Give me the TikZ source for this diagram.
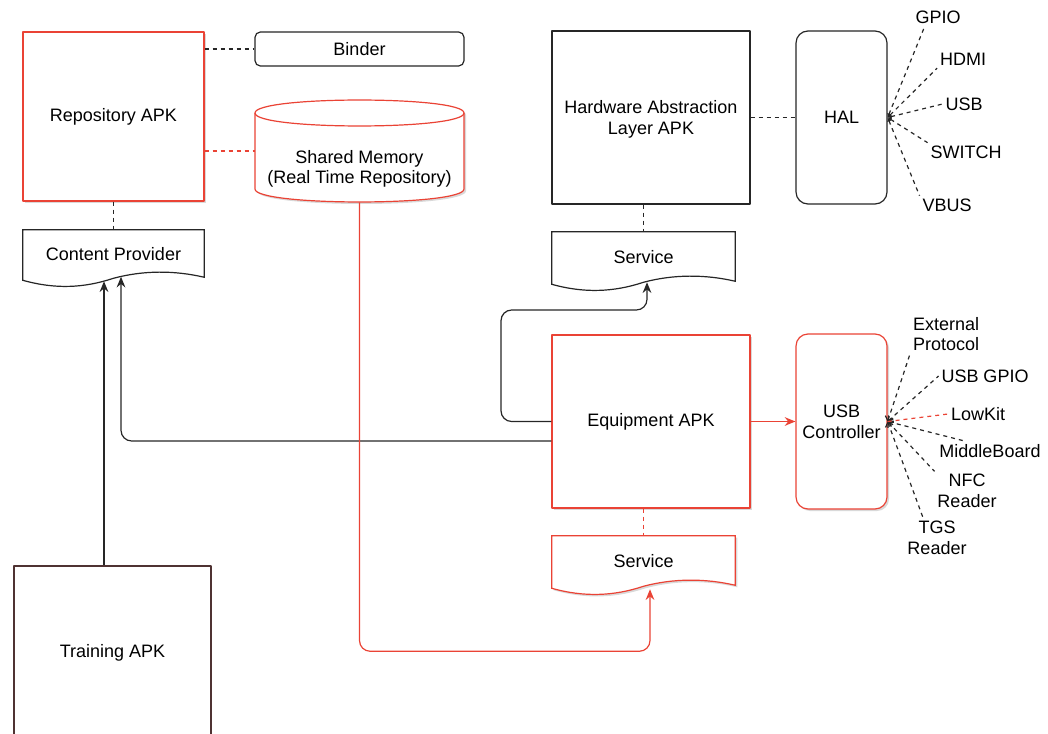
\documentclass[tikz,border=0pt]{standalone}
\usepackage{fontspec}
\setmainfont{Liberation Sans}
\usetikzlibrary{arrows.meta,shadows,backgrounds}

\definecolor{ink}{HTML}{262626}
\definecolor{redline}{HTML}{EA4335}
\definecolor{trainline}{HTML}{4F3232}
\newcommand{\un}{0.75pt}

\begin{document}
\begin{tikzpicture}[x=0.75pt, y=-0.75pt, font=\fontsize{13.5}{15.5}\selectfont, line join=round,
	>={Stealth[length=8pt,width=6.5pt]},
	box/.style={draw=ink, fill=white, line width=0.9pt, align=center, inner sep=0pt},
	redbox/.style={box, draw=redline, drop shadow={shadow xshift=1.5pt, shadow yshift=-1.5pt, opacity=0.3}},
	docbox/.style={inner sep=0pt, align=center},
	docline/.style={draw=ink, fill=white, line width=0.9pt},
	reddoc/.style={docline, draw=redline, drop shadow={shadow xshift=1.5pt, shadow yshift=-1.5pt, opacity=0.3}},
	dashline/.style={line width=0.9pt, dash pattern=on 3pt off 3pt},
	flow/.style={draw=ink, line width=0.9pt},
	redflow/.style={draw=redline, line width=0.9pt},
	tag/.style={inner sep=2pt, align=center}]
	\useasboundingbox (0,0) rectangle (1048,734);
	\clip (0,0) rectangle (1048,734);
	
	% Left column
	\node[redbox, minimum width=181*\un, minimum height=169*\un] (repo) at (113.5,116.5) {Repository APK};
	\node[box, rounded corners=4pt, minimum width=209*\un, minimum height=34*\un] (binder) at (359.5,49) {Binder};
	\node[docbox, minimum width=209*\un, minimum height=102*\un] (shm) at (359.5,151) {};
	\node[align=center] (shmtext) at (359.5,169) {Shared Memory\\(Real Time Repository)};
	\node[docbox, minimum width=181*\un, minimum height=48*\un] (cp) at (113.5,254) {Content Provider};
	\node[box, draw=trainline, minimum width=197*\un, minimum height=174*\un] (train) at (112.5,653) {Training APK};
	
	% Right column
	\node[box, minimum width=198*\un, minimum height=173*\un, text depth=-6pt] (hala) at (651,117.5) {Hardware Abstraction\\Layer APK};
	\node[box, rounded corners=9pt, minimum width=91*\un, minimum height=173*\un] (hal) at (841.5,117.5) {HAL};
	\node[docbox, minimum width=183*\un, minimum height=50*\un] (svhal) at (643.5,257) {Service};
	\node[redbox, minimum width=198*\un, minimum height=173*\un] (equip) at (651,421.5) {Equipment APK};
	\node[redbox, rounded corners=9pt, minimum width=91*\un, minimum height=175*\un] (usbc) at (841.5,421.5) {USB\\Controller};
	\node[docbox, minimum width=183*\un, minimum height=50*\un] (svequ) at (643.5,561) {Service};
	
	% Cylinder and document outlines
	\begin{scope}[on background layer]
		\draw[reddoc] (255,113) -- (255,189) .. controls (255,206.3) and (464,206.3) .. (464,189) -- (464,113) .. controls (464,95.7) and (255,95.7) .. (255,113) -- cycle;
		\draw[redflow] (255,113) .. controls (255,130.3) and (464,130.3) .. (464,113);
		\foreach \n/\s in {cp/docline, svhal/docline, svequ/reddoc}
			\draw[\s] (\n.north west) -- (\n.north east) -- ([yshift=1*\un]\n.south east)
				.. controls +(-30,-7) and +(30,-8) .. (\n.south)
				.. controls +(-30,10) and +(32,9) .. ([yshift=-2*\un]\n.south west) -- cycle;
	\end{scope}
	
	% Dashed links
	\draw[dashline, ink] (repo.east |- binder.west) -- (binder.west);
	\draw[dashline, redline] (repo.east |- shm.west) -- (shm.west);
	\draw[dashline, ink] (repo.south) -- (cp.north);
	\draw[dashline, ink] (hala.east) -- (hal.west);
	\draw[dashline, ink] (svhal.north |- hala.south) -- (svhal.north);
	\draw[dashline, redline] (svequ.north |- equip.south) -- (svequ.north);
	
	% Arrows
	\draw[flow, ->] ([xshift=-8.5*\un]train.north) -- ([xshift=-9.5*\un, yshift=-3*\un]cp.south);
	\draw[flow, ->, rounded corners=8pt] ([yshift=-19.5*\un]equip.west) -| ([xshift=7.5*\un, yshift=1.5*\un]cp.south);
	\draw[flow, ->, rounded corners=8pt] (equip.west) -| (501,310) -| ([xshift=3.5*\un]svhal.south);
	\draw[redflow, line width=1.1pt, ->] (equip.east) -- (usbc.west);
	\draw[redflow, ->, rounded corners=8pt] (shm.south) -- ++(0,449) -| ([xshift=6.5*\un, yshift=-3*\un]svequ.south);
	
	% HAL outputs
	\foreach \n/\px/\py/\t in {gpio/938/17/GPIO, hdmi/963/59/HDMI, usb/964/104/USB, switch/966/152/SWITCH, vbus/947/205/VBUS}
		\node[tag] (\n) at (\px,\py) {\t};
	\foreach \n/\a in {gpio/215, hdmi/south west, usb/west, switch/north west, vbus/north west}
		\draw[dashline, ink, {Latex[length=3pt,width=3pt]}-] (hal.east) -- (\n.\a);
	
	% USB controller outputs
	\foreach \n/\px/\py/\t in {ext/946/334/{External\\Protocol}, usbgpio/985/376/USB GPIO, lowkit/978/414/LowKit, middle/990/451/MiddleBoard, nfc/967/491/{NFC\\Reader}, tgs/937/538/{TGS\\Reader}}
		\node[tag] (\n) at (\px,\py) {\t};
	\foreach \n/\a in {ext/south west, usbgpio/west, middle/158, nfc/north west, tgs/125}
		\draw[dashline, ink, {Straight Barb[length=3pt,width=6pt]}-] (usbc.east) -- (\n.\a);
	\draw[dashline, redline] (usbc.east) -- (lowkit.west);
\end{tikzpicture}
\end{document}
